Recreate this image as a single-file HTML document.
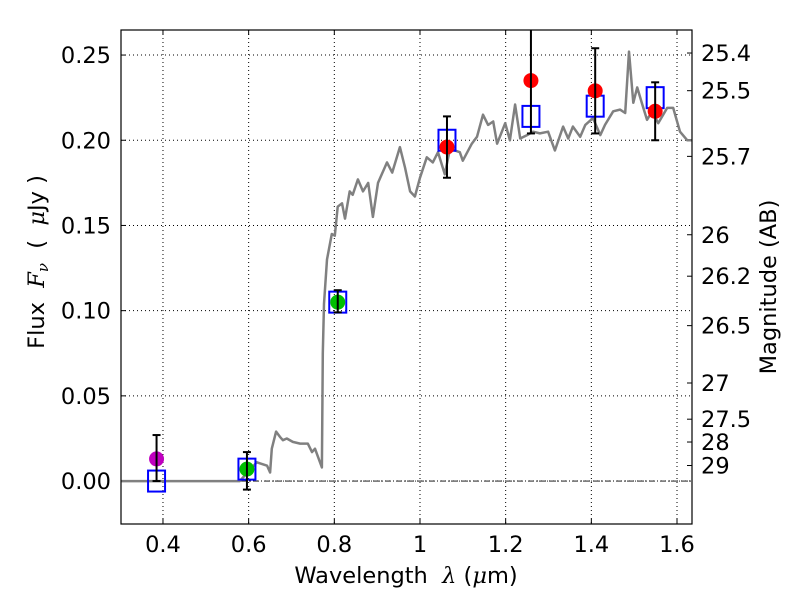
<!DOCTYPE html>
<html><head><meta charset="utf-8"><style>
body{margin:0;background:#fff}
svg text{font-family:"DejaVu Sans","Liberation Sans",sans-serif;fill:#000;white-space:pre}
</style></head><body>
<svg id="chart" width="800" height="600" xmlns="http://www.w3.org/2000/svg"></svg>
<script>
const specLam=[0.30,0.579,0.619,0.643,0.650,0.654,0.664,0.673,0.680,0.689,0.703,0.720,0.738,0.748,0.755,0.771,0.773,0.776,0.783,0.794,0.801,0.808,0.818,0.825,0.836,0.843,0.855,0.867,0.879,0.890,0.902,0.923,0.935,0.953,0.965,0.977,0.988,1.0,1.016,1.030,1.042,1.058,1.070,1.093,1.100,1.121,1.133,1.147,1.159,1.171,1.180,1.199,1.210,1.222,1.234,1.250,1.264,1.280,1.299,1.315,1.334,1.346,1.357,1.374,1.386,1.404,1.421,1.432,1.451,1.467,1.479,1.488,1.498,1.507,1.519,1.530,1.542,1.556,1.577,1.591,1.607,1.624,1.638];
const specFlux=[0,0,0.011,0.009,0.005,0.019,0.029,0.026,0.024,0.025,0.023,0.022,0.022,0.017,0.019,0.008,0.075,0.104,0.130,0.145,0.144,0.161,0.163,0.154,0.170,0.168,0.177,0.170,0.175,0.155,0.175,0.187,0.181,0.196,0.184,0.170,0.167,0.178,0.190,0.187,0.193,0.180,0.195,0.193,0.188,0.198,0.202,0.215,0.209,0.211,0.198,0.210,0.200,0.221,0.201,0.203,0.205,0.204,0.205,0.194,0.208,0.201,0.208,0.202,0.209,0.213,0.203,0.209,0.217,0.218,0.216,0.252,0.222,0.231,0.221,0.212,0.217,0.210,0.219,0.219,0.205,0.200,0.200];
const modelLam=[0.385,0.596,0.808,1.063,1.259,1.409,1.549];
const modelFlux=[0.0,0.007,0.105,0.200,0.214,0.220,0.225];
const obsLam=[0.385,0.596,0.808,1.063,1.259,1.409,1.549];
const obsFlux=[0.013,0.007,0.105,0.196,0.235,0.229,0.217];
const obsHi=[0.027,0.017,0.112,0.214,0.275,0.254,0.234];
const obsLo=[0.0,-0.005,0.099,0.178,0.204,0.204,0.200];
const obsColor=["#bf00bf","#00bf00","#00bf00","#ff0000","#ff0000","#ff0000","#ff0000"];
const xTicks=[0.4,0.6,0.8,1.0,1.2,1.4,1.6];
const xTickLabels=["0.4","0.6","0.8","1","1.2","1.4","1.6"];
const yTicks=[0,0.05,0.10,0.15,0.20,0.25];
const yTickLabels=["0.00","0.05","0.10","0.15","0.20","0.25"];
const magTicks=[25.4,25.5,25.7,26,26.2,26.5,27,27.5,28,29];
const magLabels=["25.4","25.5","25.7","26","26.2","26.5","27","27.5","28","29"];

const L=121,R=692,T=30,B=524;
const xMin=0.302,xMax=1.635,yMin=-0.0252,yMax=0.2647;
const X=v=>L+(v-xMin)/(xMax-xMin)*(R-L);
const Y=v=>B-(v-yMin)/(yMax-yMin)*(B-T);
const svg=document.getElementById('chart');
const NS='http://www.w3.org/2000/svg';
function mk(tag,attrs,parent){const e=document.createElementNS(NS,tag);for(const k in attrs)e.setAttribute(k,attrs[k]);(parent||svg).appendChild(e);return e;}

const clip=mk('clipPath',{id:'pc'});mk('rect',{x:L,y:T,width:R-L,height:B-T},clip);
xTicks.forEach((t,i)=>{
 const g=mk('line',{x1:X(t),x2:X(t),y1:T,y2:B,stroke:'#000','stroke-width':1,'stroke-dasharray':'1,3'});
 
 
 mk('line',{x1:X(t),x2:X(t),y1:B,y2:B-5,stroke:'#000'});
 mk('line',{x1:X(t),x2:X(t),y1:T,y2:T+5,stroke:'#000'});
 const tx=mk('text',{x:X(t),y:B+28,'text-anchor':'middle','font-size':22.5});tx.textContent=xTickLabels[i];
 
 
});
yTicks.forEach((t,i)=>{
 const g=mk('line',{x1:L,x2:R,y1:Y(t),y2:Y(t),stroke:'#000','stroke-width':1,'stroke-dasharray':'1,3'});
 
 
 mk('line',{x1:L,x2:L+5,y1:Y(t),y2:Y(t),stroke:'#000'});
 const tx=mk('text',{x:L-10,y:Y(t)+8,'text-anchor':'end','font-size':22.5});tx.textContent=yTickLabels[i];
 
 
});
magTicks.forEach((m,i)=>{
 const f=Math.pow(10,-0.4*(m-23.9));
 mk('line',{x1:R,x2:R-5,y1:Y(f),y2:Y(f),stroke:'#000'});
 const tx=mk('text',{x:R+9,y:Y(f)+8,'font-size':22.5});tx.textContent=magLabels[i];
 
 
});
const z=mk('line',{x1:L,x2:R,y1:Y(0),y2:Y(0),stroke:'#000','stroke-width':0.8,'stroke-dasharray':'6,2,1,2'});


const pts=specLam.map((l,i)=>X(l).toFixed(1)+','+Y(specFlux[i]).toFixed(1)).join(' ');
const sp=mk('polyline',{points:pts,fill:'none',stroke:'#808080','stroke-width':2.5,'clip-path':'url(#pc)','stroke-linejoin':'round'});


modelLam.forEach((l,i)=>{
 const r=mk('rect',{x:X(l)-8.5,y:Y(modelFlux[i])-10.5,width:17,height:21,fill:'none',stroke:'#0000ff','stroke-width':2,'clip-path':'url(#pc)'});
 
 
});
obsLam.forEach((l,i)=>{
 const x=X(l);
 const c=mk('circle',{cx:x,cy:Y(obsFlux[i]),r:7.5,fill:obsColor[i],'clip-path':'url(#pc)'});
 
 
 const e=mk('line',{x1:x,x2:x,y1:Y(obsHi[i]),y2:Y(obsLo[i]),stroke:'#000','stroke-width':2,'clip-path':'url(#pc)'});
 
 
 [obsHi[i],obsLo[i]].forEach(v=>mk('line',{x1:x-4,x2:x+4,y1:Y(v),y2:Y(v),stroke:'#000','stroke-width':2,'clip-path':'url(#pc)'}));
});
const fr=mk('rect',{x:L,y:T,width:R-L,height:B-T,fill:'none',stroke:'#000','stroke-width':1.2});


</script>
<svg style="position:absolute;left:0;top:0" width="800" height="600" xmlns="http://www.w3.org/2000/svg">
<text x="406" y="583" text-anchor="middle" font-size="22.5" font-family="DejaVu Sans, sans-serif">Wavelength  <tspan font-family="DejaVu Serif, serif" font-style="italic">λ</tspan> (<tspan font-family="DejaVu Serif, serif" font-style="italic">μ</tspan>m)</text>
<text transform="translate(44,262) rotate(-90)" text-anchor="middle" font-size="22.5" font-family="DejaVu Sans, sans-serif">Flux  <tspan font-family="DejaVu Serif, serif" font-style="italic">F</tspan><tspan font-family="DejaVu Serif, serif" font-style="italic" font-size="15" dy="4">ν</tspan><tspan dy="-4">  (  </tspan><tspan font-family="DejaVu Serif, serif" font-style="italic">μ</tspan>Jy )</text>
<text transform="translate(776,287) rotate(-90)" text-anchor="middle" font-size="22.5" font-family="DejaVu Sans, sans-serif">Magnitude (AB)</text>
</svg>
</body></html>
